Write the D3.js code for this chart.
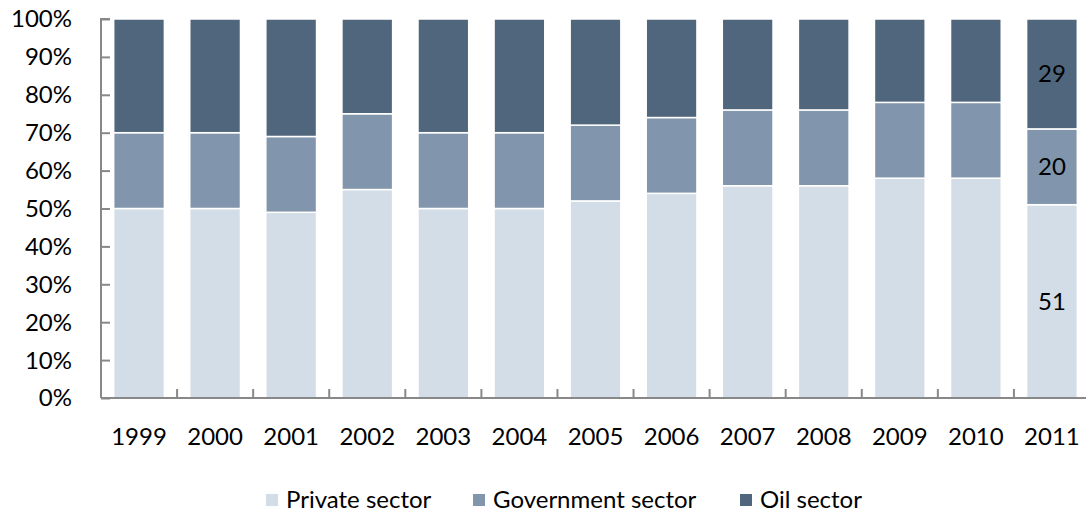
<!DOCTYPE html>
<html><head><meta charset="utf-8">
<script src="https://cdn.jsdelivr.net/npm/d3@7"></script>
<style>body{margin:0;background:#fff;} svg{display:block;font-family:Lato, "Open Sans", sans-serif;}</style>
</head><body>
<svg id="c" width="1086" height="515"></svg>
<script>
const years = ["1999","2000","2001","2002","2003","2004","2005","2006","2007","2008","2009","2010","2011"];
const privateSector = [50,50,49,55,50,50,52,54,56,56,58,58,51];
const governmentSector = [20,20,20,20,20,20,20,20,20,20,20,20,20];
const oilSector = [30,30,31,25,30,30,28,26,24,24,22,22,29];
const seriesNames = ["Private sector","Government sector","Oil sector"];
const seriesColors = ["#D3DDE7","#8196AC","#50667C"];
const yTicks = [0,10,20,30,40,50,60,70,80,90,100];
const labelledYear = "2011";

(function(){
const svg = d3.select("#c");
const pL = 101, pR = 1090, pT = 19, pB = 398;
const x = d3.scaleBand().domain(years).range([pL, pR]).paddingInner(1/3).paddingOuter(1/6);
const y = d3.scaleLinear().domain([0,100]).range([pB, pT]);

const rows = years.map((yr,i)=>({year:yr, p:privateSector[i], g:governmentSector[i], o:oilSector[i]}));
const stack = d3.stack().keys(["p","g","o"])(rows);

svg.append("g").selectAll("g").data(stack).join("g")
  .attr("fill",(d,i)=>seriesColors[i])
  .selectAll("rect").data(d=>d).join("rect")
  .attr("x",d=>x(d.data.year))
  .attr("width",x.bandwidth())
  .attr("y",d=>y(d[1]))
  .attr("height",d=>y(d[0])-y(d[1]))
  .attr("stroke","#fff").attr("stroke-width",1.5);

// y axis
const ya = svg.append("g").attr("transform",`translate(${pL},0)`)
  .call(d3.axisRight(y).tickValues(yTicks).tickSize(9).tickFormat(""));
ya.selectAll("path,line").attr("stroke","#888").attr("stroke-width",2);
ya.select(".domain").attr("d",`M9,${pT}H0V${pB}`);
svg.append("g").selectAll("text").data(yTicks).join("text")
  .attr("x",72).attr("y",d=>y(d)).attr("dy","0.35em").attr("text-anchor","end")
  .attr("font-size",24).attr("fill","#000").text(d=>d+"%");

// x axis
svg.append("line").attr("x1",pL).attr("x2",pR).attr("y1",pB).attr("y2",pB)
  .attr("stroke","#888").attr("stroke-width",2);
const gapHalf = (x.step()-x.bandwidth())/2;
svg.append("g").selectAll("line").data(years.slice(1)).join("line")
  .attr("x1",d=>x(d)-gapHalf).attr("x2",d=>x(d)-gapHalf)
  .attr("y1",pB).attr("y2",pB-9).attr("stroke","#888").attr("stroke-width",2);
svg.append("g").selectAll("text").data(years).join("text")
  .attr("x",d=>x(d)+x.bandwidth()/2).attr("y",437).attr("dy","0.35em").attr("text-anchor","middle")
  .attr("font-size",24).attr("fill","#000").text(d=>d);

// labels on 2011
const li = years.indexOf(labelledYear);
stack.forEach(s=>{
  const d = s[li];
  svg.append("text").attr("x",x(labelledYear)+x.bandwidth()/2).attr("y",(y(d[0])+y(d[1]))/2)
    .attr("dy","0.35em").attr("text-anchor","middle").attr("font-size",24).attr("fill","#000")
    .text(d[1]-d[0]);
});

// legend
const legX = [266, 473, 740];
const lg = svg.append("g");
seriesNames.forEach((n,i)=>{
  lg.append("rect").attr("x",legX[i]).attr("y",494).attr("width",12).attr("height",12).attr("fill",seriesColors[i]);
  lg.append("text").attr("x",legX[i]+20).attr("y",500).attr("dy","0.35em").attr("font-size",24).attr("fill","#000").text(n);
});
})();
</script>
</body></html>
